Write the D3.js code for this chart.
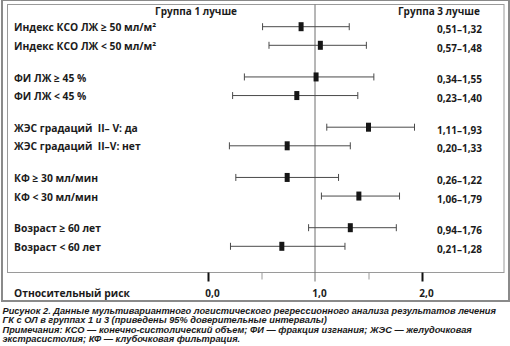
<!DOCTYPE html>
<html lang="ru">
<head>
<meta charset="utf-8">
<script src="https://cdn.jsdelivr.net/npm/d3@7"></script>
<style>
  html, body { margin: 0; padding: 0; background: #fff; }
  svg { display: block; }
  text { white-space: pre; }
</style>
</head>
<body>
<div id="chart"></div>
<script>
// Subgroups of the multivariate analysis (two rows per factor)
const groups = ["КСО", "ФИ", "ЖЭС", "КФ", "Возраст"];
const rowLabels = [
  "Индекс КСО ЛЖ ≥ 50 мл/м²",
  "Индекс КСО ЛЖ < 50 мл/м²",
  "ФИ ЛЖ ≥ 45 %",
  "ФИ ЛЖ < 45 %",
  "ЖЭС градаций  II– V: да",
  "ЖЭС градаций  II–V: нет",
  "КФ ≥ 30 мл/мин",
  "КФ < 30 мл/мин",
  "Возраст ≥ 60 лет",
  "Возраст < 60 лет"
];
// Relative risk: point estimate and 95% confidence interval
const estimate = [0.87, 1.05, 1.01, 0.83, 1.50, 0.74, 0.74, 1.41, 1.33, 0.69];
const lower    = [0.51, 0.57, 0.34, 0.23, 1.11, 0.20, 0.26, 1.06, 0.94, 0.21];
const upper    = [1.32, 1.48, 1.55, 1.40, 1.93, 1.33, 1.22, 1.79, 1.76, 1.28];

const axisTicks = [0, 0.5, 1, 1.5, 2];
const axisTitle = "Относительный риск";
const headerLeft = "Группа 1 лучше";
const headerRight = "Группа 3 лучше";
const captionLines = [
  "Рисунок 2. Данные мультивариантного логистического регрессионного анализа результатов лечения",
  "ГК с ОЛ в группах 1 и 3 (приведены 95% доверительные интервалы)",
  "Примечания: КСО — конечно-систолический объем; ФИ — фракция изгнания; ЖЭС — желудочковая",
  "экстрасистолия; КФ — клубочковая фильтрация."
];

const W = 510, H = 346;
const ink = "#1b1b1b";
const labelFont = "'Open Sans', 'DejaVu Sans', sans-serif";

const rows = rowLabels.map((label, i) => ({
  label,
  group: groups[Math.floor(i / 2)],
  side: i % 2,
  est: estimate[i],
  lo: lower[i],
  hi: upper[i]
}));

const svg = d3.select("#chart").append("svg")
  .attr("width", W).attr("height", H);

svg.append("rect").attr("width", W).attr("height", H).attr("fill", "#fff");

// outer frame and inner plotting box
svg.append("rect")
  .attr("x", 2).attr("y", 0).attr("width", 507).attr("height", 301)
  .attr("fill", "none").attr("stroke", "#8a8a8a").attr("stroke-width", 2);

const box = { left: 7.5, top: 4.5, right: 504, bottom: 272.5 };
svg.append("rect")
  .attr("x", box.left).attr("y", box.top)
  .attr("width", box.right - box.left).attr("height", box.bottom - box.top)
  .attr("fill", "none").attr("stroke", "#9a9a9a").attr("stroke-width", 1);

const x = d3.scaleLinear().domain([0, 2]).range([208, 422]);
const yGroup = d3.scalePoint().domain(groups).range([36, 237]);
const rowGap = 9.3;
const rowY = d => yGroup(d.group) + (d.side ? rowGap : -rowGap);

// reference line at RR = 1, running down through the axis
svg.append("line")
  .attr("x1", x(1)).attr("x2", x(1))
  .attr("y1", box.top).attr("y2", box.bottom + 9)
  .attr("stroke", "#6e6e6e").attr("stroke-width", 1);

// headers
svg.append("text")
  .attr("x", x(1) - 78).attr("y", 15)
  .attr("text-anchor", "end")
  .attr("font-family", labelFont).attr("font-weight", 700).attr("font-size", 10)
  .attr("fill", ink).text(headerLeft);
svg.append("text")
  .attr("x", x(1) + 83).attr("y", 15)
  .attr("text-anchor", "start")
  .attr("font-family", labelFont).attr("font-weight", 700).attr("font-size", 10)
  .attr("fill", ink).text(headerRight);

// row labels
svg.append("g").selectAll("text").data(rows).join("text")
  .attr("x", 14)
  .attr("y", d => rowY(d) + 1)
  .attr("dy", "0.35em")
  .attr("font-family", labelFont).attr("font-weight", 700).attr("font-size", 10.3)
  .attr("fill", ink)
  .text(d => d.label);

// confidence intervals
const fmt = v => d3.format(".2f")(v).replace(".", ",");
const ci = svg.append("g").selectAll("g").data(rows).join("g")
  .attr("transform", d => `translate(0,${rowY(d)})`);
ci.append("line")
  .attr("x1", d => x(d.lo)).attr("x2", d => x(d.hi))
  .attr("stroke", "#4a4a4a").attr("stroke-width", 1);
ci.append("line")
  .attr("x1", d => x(d.lo)).attr("x2", d => x(d.lo))
  .attr("y1", -3.5).attr("y2", 3.5)
  .attr("stroke", "#4a4a4a").attr("stroke-width", 1);
ci.append("line")
  .attr("x1", d => x(d.hi)).attr("x2", d => x(d.hi))
  .attr("y1", -3.5).attr("y2", 3.5)
  .attr("stroke", "#4a4a4a").attr("stroke-width", 1);
ci.append("rect")
  .attr("x", d => x(d.est) - 2.5).attr("y", -4.5)
  .attr("width", 5).attr("height", 9)
  .attr("fill", "#161616");

// interval values on the right
svg.append("g").selectAll("text").data(rows).join("text")
  .attr("x", 437)
  .attr("y", d => rowY(d) + 3)
  .attr("dy", "0.35em")
  .attr("font-family", labelFont).attr("font-weight", 700).attr("font-size", 10)
  .attr("fill", ink)
  .text(d => `${fmt(d.lo)}–${fmt(d.hi)}`);

// bottom axis
const axis = d3.axisBottom(x)
  .tickValues(axisTicks)
  .tickSize(9)
  .tickFormat(d => Number.isInteger(d) ? d3.format(".1f")(d).replace(".", ",") : "");
const gAxis = svg.append("g")
  .attr("transform", `translate(0,${box.bottom})`)
  .call(axis);
gAxis.select(".domain").remove();
gAxis.selectAll(".tick line")
  .attr("stroke", d => d === 1 ? "none" : (Number.isInteger(d) ? "#111" : "#9a9a9a"))
  .attr("stroke-width", d => Number.isInteger(d) ? 2 : 1)
  .attr("y2", d => Number.isInteger(d) ? 9 : 7);
gAxis.selectAll(".tick text")
  .attr("x", 4)
  .attr("y", 20.5)
  .attr("dy", "0.35em")
  .attr("font-family", labelFont).attr("font-weight", 700).attr("font-size", 10)
  .attr("fill", ink);

svg.append("text")
  .attr("x", 14).attr("y", 293)
  .attr("dy", "0.35em")
  .attr("font-family", labelFont).attr("font-weight", 700).attr("font-size", 10.3)
  .attr("fill", ink).text(axisTitle);

// figure caption
svg.append("g").selectAll("text").data(captionLines).join("text")
  .attr("x", 2.5)
  .attr("y", (d, i) => 313.5 + i * 9.5)
  .attr("font-family", "'Liberation Sans', Arial, sans-serif")
  .attr("font-weight", 700).attr("font-style", "italic").attr("font-size", 9.25)
  .attr("fill", "#1a1a1a")
  .text(d => d);
</script>
</body>
</html>
